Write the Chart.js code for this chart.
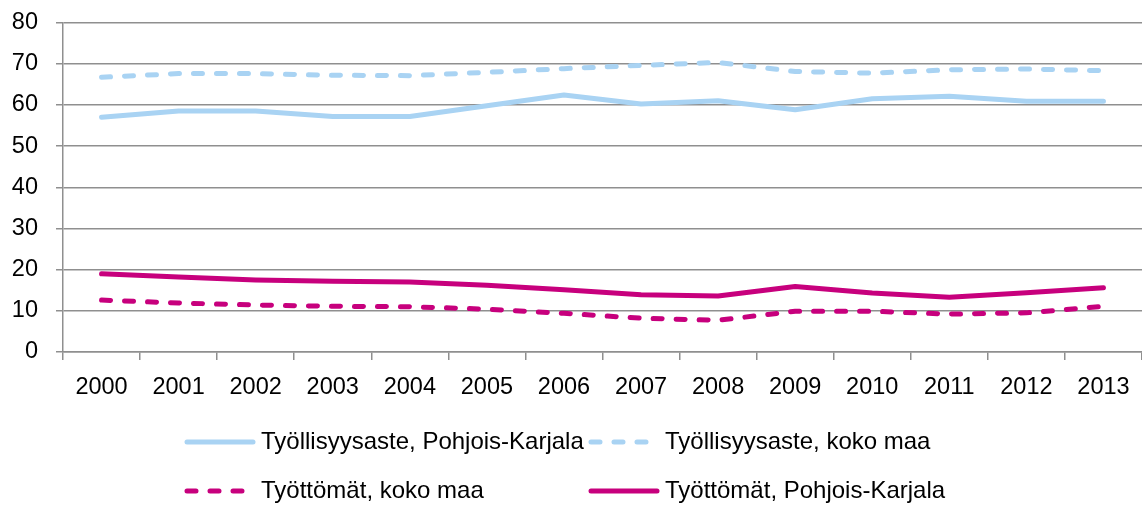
<!DOCTYPE html>
<html>
<head>
<meta charset="utf-8">
<script src="https://cdn.jsdelivr.net/npm/chart.js@4.4.1/dist/chart.umd.min.js"></script>
<style>
  html, body { margin: 0; padding: 0; background: #fff; }
  #wrap { width: 1142px; height: 506px; position: relative; }
</style>
</head>
<body>
<div id="wrap"><canvas id="c" width="1142" height="506"></canvas></div>
<script>
const years = ['2000','2001','2002','2003','2004','2005','2006','2007','2008','2009','2010','2011','2012','2013'];
const tyollisyysPK   = [57.0, 58.5, 58.5, 57.2, 57.2, 59.8, 62.4, 60.2, 61.0, 58.8, 61.5, 62.1, 60.9, 60.9];
const tyollisyysKoko = [66.7, 67.6, 67.6, 67.2, 67.1, 67.9, 68.8, 69.6, 70.3, 68.1, 67.7, 68.5, 68.7, 68.3];
const tyottomatKoko  = [12.6, 11.9, 11.4, 11.1, 11.0, 10.4, 9.4, 8.2, 7.7, 9.9, 9.9, 9.2, 9.5, 11.1];
const tyottomatPK    = [19.0, 18.2, 17.5, 17.2, 17.0, 16.2, 15.1, 13.9, 13.6, 15.9, 14.3, 13.3, 14.4, 15.6];
const seriesNames = ['Työllisyysaste, Pohjois-Karjala', 'Työllisyysaste, koko maa', 'Työttömät, koko maa', 'Työttömät, Pohjois-Karjala'];
const yTicks = [0, 10, 20, 30, 40, 50, 60, 70, 80];

const BLUE = '#A9D3F3';
const MAGENTA = '#C7007D';
const FONT = '"Liberation Sans", Arial, sans-serif';
const FS = 23.5;
const LFS = 24;
const DASH = [9, 14];

const legendPlugin = {
  id: 'gridLegend',
  afterDraw(chart) {
    const ctx = chart.ctx;
    const slots = [[0,0],[1,0],[0,1],[1,1]];
    const colX = [187, 591];
    const rowY = [442, 491];
    chart.data.datasets.forEach((ds, i) => {
      const [c, r] = slots[i];
      const x = colX[c], y = rowY[r];
      ctx.save();
      ctx.strokeStyle = ds.borderColor;
      ctx.lineWidth = ds.borderWidth;
      ctx.lineCap = 'round';
      ctx.setLineDash(ds.borderDash || []);
      ctx.beginPath();
      ctx.moveTo(x, y);
      ctx.lineTo(x + 66, y);
      ctx.stroke();
      ctx.setLineDash([]);
      ctx.fillStyle = '#000';
      ctx.font = LFS + 'px ' + FONT;
      ctx.textBaseline = 'middle';
      ctx.textAlign = 'left';
      ctx.fillText(ds.label, x + 74, y);
      ctx.restore();
    });
  }
};

const mk = (label, data, color, dash) => ({
  label, data,
  borderColor: color,
  backgroundColor: color,
  borderWidth: 5,
  borderDash: dash,
  borderCapStyle: 'round',
  borderJoinStyle: 'round',
  pointRadius: 0,
  pointHoverRadius: 0,
  tension: 0,
  fill: false
});

new Chart(document.getElementById('c'), {
  type: 'line',
  data: {
    labels: years,
    datasets: [
      mk(seriesNames[0], tyollisyysPK, BLUE, []),
      mk(seriesNames[1], tyollisyysKoko, BLUE, DASH),
      mk(seriesNames[2], tyottomatKoko, MAGENTA, DASH),
      mk(seriesNames[3], tyottomatPK, MAGENTA, [])
    ]
  },
  options: {
    responsive: false,
    animation: false,
    devicePixelRatio: 1,
    layout: { padding: { top: 22.5, right: 0, bottom: 0, left: 0 } },
    plugins: { legend: { display: false }, tooltip: { enabled: false } },
    scales: {
      x: {
        offset: true,
        grid: { offset: true, drawOnChartArea: false, drawTicks: true, tickLength: 8, color: '#8f8f8f', lineWidth: 1.5 },
        border: { display: true, color: '#8f8f8f', width: 1.5 },
        ticks: { color: '#000', font: { family: FONT, size: FS }, padding: 13, maxRotation: 0, autoSkip: false },
        afterFit(s) { s.height = 154; s.paddingLeft = 0; s.paddingRight = 0; }
      },
      y: {
        min: 0, max: 80,
        afterBuildTicks(s) { s.ticks = yTicks.map(v => ({ value: v })); },
        grid: { color: '#8f8f8f', lineWidth: 1.5, tickLength: 7, drawTicks: true },
        border: { display: true, color: '#8f8f8f', width: 1.5 },
        ticks: { color: '#000', font: { family: FONT, size: FS }, padding: 18 },
        afterFit(s) { s.width = 63; s.paddingTop = 0; s.paddingBottom = 0; }
      }
    }
  },
  plugins: [legendPlugin]
});
</script>
</body>
</html>
